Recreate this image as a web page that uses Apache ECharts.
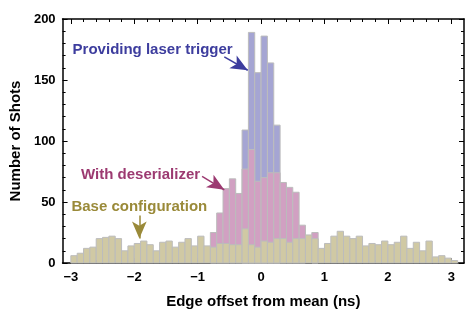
<!DOCTYPE html>
<html>
<head>
<meta charset="utf-8">
<script src="https://cdn.jsdelivr.net/npm/echarts@6/dist/echarts.min.js"></script>
<style>
  html, body { margin: 0; padding: 0; background: #fff; }
  #chart { width: 467px; height: 314px; }
</style>
</head>
<body>
<div id="chart"></div>
<script>
(function () {
  'use strict';

  // histogram bins are 0.1 ns wide; each list starts at its first bin's left edge
  const binWidth = 0.1;

  const baseStart = -3.0;
  const baseCounts = [
    6, 8, 12, 13, 20, 21, 22, 20, 10, 14,
    16, 18, 15, 10, 17, 18, 13, 17, 20, 14,
    22, 14, 13, 16, 16, 15, 15, 28, 15, 13,
    18, 17, 20, 20, 17, 20, 20, 23, 20, 12,
    16, 22, 26, 22, 20, 22, 14, 16, 15, 18,
    15, 17, 22, 12, 17, 10, 18, 5, 6, 4, 2
  ];

  const deserStart = -0.8;
  const deserCounts = [25, 41, 61, 69, 57, 77, 93, 67, 70, 74, 74, 66, 62, 58, 31, null, 25];

  const laserStart = -0.3;
  const laserCounts = [109, 189, 156, 186, 164, 113];

  const xMajorTicks = [-3, -2, -1, 0, 1, 2, 3];
  const xMinorTicks = [-3, -2.8, -2.6, -2.4, -2.2, -2, -1.8, -1.6, -1.4, -1.2, -1, -0.8, -0.6, -0.4, -0.2,
    0, 0.2, 0.4, 0.6, 0.8, 1, 1.2, 1.4, 1.6, 1.8, 2, 2.2, 2.4, 2.6, 2.8, 3];

  // annotation text anchors and arrows, in data units [x, count]
  const notes = [
    { text: 'Providing laser trigger', at: [-1.71, 175], from: [-0.58, 169], to: [-0.21, 158], color: '#3d3d9e' },
    { text: 'With deserializer', at: [-1.9, 72.5], from: [-0.93, 71], to: [-0.58, 60], color: '#9c3a71' },
    { text: 'Base configuration', at: [-1.92, 46], from: [-1.92, 39], to: [-1.92, 20], color: '#9a8a39' }
  ];

  const font = '"Liberation Sans", Arial, sans-serif';
  const edgeColor = '#bcbcbc';

  function toBins(start, counts) {
    const out = [];
    counts.forEach((c, i) => {
      if (c == null) return;
      out.push([Math.round((start + i * binWidth) * 10) / 10, c]);
    });
    return out;
  }

  function binRenderer(color) {
    return function (params, api) {
      const x0 = api.value(0);
      const top = api.coord([x0, api.value(1)]);
      const bottom = api.coord([x0 + binWidth, 0]);
      return {
        type: 'rect',
        shape: { x: top[0], y: top[1], width: bottom[0] - top[0], height: bottom[1] - top[1] },
        style: { fill: color, stroke: edgeColor, lineWidth: 1 }
      };
    };
  }

  function histSeries(name, start, counts, color) {
    return {
      name,
      type: 'custom',
      renderItem: binRenderer(color),
      data: toBins(start, counts),
      encode: { x: 0, y: 1 },
      silent: true,
      animation: false
    };
  }

  const xRange = { min: -3.13, max: 3.2 };
  const tickLabel = { color: '#000', fontFamily: font, fontWeight: 'bold', fontSize: 13 };
  const frameLine = { show: true, onZero: false, lineStyle: { color: '#000', width: 1.5 } };

  function xAxisDef(position, ticks, len, withLabels) {
    return Object.assign({
      type: 'value',
      position,
      axisLine: withLabels === null ? { show: false, onZero: false } : frameLine,
      axisTick: { show: true, inside: true, length: len, customValues: ticks, lineStyle: { color: '#000', width: 1 } },
      axisLabel: withLabels
        ? Object.assign({ show: true, margin: 8, customValues: ticks, formatter: (v) => String(v).replace('-', '\u2212') }, tickLabel)
        : { show: false },
      splitLine: { show: false }
    }, xRange);
  }

  const xAxes = [
    Object.assign(xAxisDef('bottom', xMajorTicks, 5, true), {
      name: 'Edge offset from mean (ns)',
      nameLocation: 'middle',
      nameGap: 31,
      nameTextStyle: { color: '#000', fontFamily: font, fontWeight: 'bold', fontSize: 15 }
    }),
    xAxisDef('bottom', xMinorTicks, 3, null),
    xAxisDef('top', xMajorTicks, 5, false),
    xAxisDef('top', xMinorTicks, 3, null)
  ];

  function yAxisDef(position, withLabels) {
    return {
      type: 'value',
      position,
      min: 0,
      max: 200,
      interval: 50,
      axisLine: frameLine,
      axisTick: { show: true, inside: true, length: 5, lineStyle: { color: '#000', width: 1 } },
      minorTick: { show: true, splitNumber: 5, length: 3, lineStyle: { color: '#000', width: 1 } },
      axisLabel: withLabels ? Object.assign({ show: true, margin: 7 }, tickLabel) : { show: false },
      splitLine: { show: false }
    };
  }

  const yAxes = [
    Object.assign(yAxisDef('left', true), {
      name: 'Number of Shots',
      nameLocation: 'middle',
      nameGap: 38,
      nameTextStyle: { color: '#000', fontFamily: font, fontWeight: 'bold', fontSize: 15 }
    }),
    yAxisDef('right', false)
  ];

  const noteSeries = {
    name: 'notes',
    type: 'scatter',
    symbolSize: 0,
    silent: true,
    animation: false,
    itemStyle: { opacity: 1 },
    data: notes.map((n) => ({
      value: n.at,
      label: {
        show: true,
        position: 'inside',
        formatter: n.text,
        color: n.color,
        opacity: 1,
        fontFamily: font,
        fontWeight: 'bold',
        fontSize: 15
      }
    })),
    markLine: {
      silent: true,
      animation: false,
      symbol: ['none', 'arrow'],
      symbolSize: [11, 17],
      label: { show: false },
      data: notes.map((n) => [
        { coord: n.from, lineStyle: { color: n.color, width: 1.5, type: 'solid', opacity: 1 }, itemStyle: { color: n.color } },
        { coord: n.to }
      ])
    }
  };

  const chart = echarts.init(document.getElementById('chart'), null, { renderer: 'canvas' });
  chart.setOption({
    animation: false,
    backgroundColor: '#fff',
    grid: { left: 62, right: 3, top: 19, bottom: 46, containLabel: false },
    xAxis: xAxes,
    yAxis: yAxes,
    series: [
      histSeries('Providing laser trigger', laserStart, laserCounts, '#a5a5d3'),
      histSeries('With deserializer', deserStart, deserCounts, '#d1a0c2'),
      histSeries('Base configuration', baseStart, baseCounts, '#d0c9a4'),
      noteSeries
    ]
  });
})();
</script>
</body>
</html>
